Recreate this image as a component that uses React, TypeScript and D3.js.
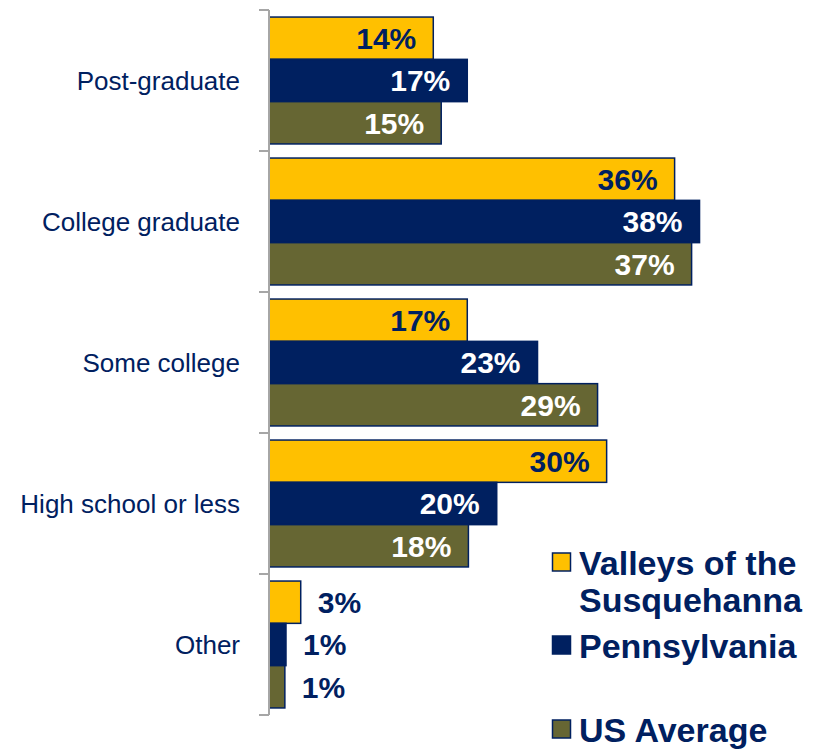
import React from "react";
import * as d3 from "d3";

const categories = ["Post-graduate", "College graduate", "Some college", "High school or less", "Other"];
const seriesNames = ["Valleys of the Susquehanna", "Pennsylvania", "US Average"];
const valleysValues = [14.5, 35.8, 17.5, 29.8, 2.8];
const pennsylvaniaValues = [17.5, 38.0, 23.7, 20.1, 1.5];
const usValues = [15.2, 37.3, 29.0, 17.6, 1.4];
const valleysLabels = ["14%", "36%", "17%", "30%", "3%"];
const pennsylvaniaLabels = ["17%", "38%", "23%", "20%", "1%"];
const usLabels = ["15%", "37%", "29%", "18%", "1%"];
const outsideCategories = ["Other"];

const W = 821;
const H = 751;
const YELLOW = "#FFC000";
const NAVY = "#002060";
const OLIVE = "#666633";
const FONT = "'Liberation Sans', Arial, sans-serif";

export default function App() {
  const x = d3.scaleLinear().domain([0, 40]).range([269, 269 + 40 * 11.33]);
  const y = d3.scaleBand<string>().domain(categories).range([10, 715]).paddingInner(0.1).paddingOuter(0.05);
  const inner = d3.scaleBand<number>().domain([0, 1, 2]).range([0, y.bandwidth()]).padding(0);
  const ticks = [...categories.map((c) => y(c)! - (y.step() - y.bandwidth()) / 2), 715];

  const series = [
    { name: seriesNames[0], values: valleysValues, labels: valleysLabels, fill: YELLOW, text: NAVY },
    { name: seriesNames[1], values: pennsylvaniaValues, labels: pennsylvaniaLabels, fill: NAVY, text: "#FFFFFF" },
    { name: seriesNames[2], values: usValues, labels: usLabels, fill: OLIVE, text: "#FFFFFF" },
  ];

  const legend = [
    { lines: ["Valleys of the", "Susquehanna"], fill: YELLOW, baseline: 575 },
    { lines: ["Pennsylvania"], fill: NAVY, baseline: 658 },
    { lines: ["US Average"], fill: OLIVE, baseline: 742 },
  ];

  return (
    <svg width={W} height={H} style={{ position: "absolute", left: 0, top: 0, background: "#fff" }} fontFamily={FONT}>
      {series.map((s, si) =>
        categories.map((c, ci) => {
          const by = y(c)! + inner(si)!;
          const bh = inner.bandwidth();
          const x1 = x(s.values[ci]);
          const outside = outsideCategories.includes(c);
          return (
            <g key={`${si}-${ci}`}>
              <rect x={x(0)} y={by} width={x1 - x(0)} height={bh} fill={s.fill} stroke={NAVY} strokeWidth={1.5} />
              <text
                x={outside ? x1 + 17 : x1 - 17}
                y={by + bh / 2}
                dy="0.36em"
                textAnchor={outside ? "start" : "end"}
                fontSize={30}
                fontWeight="bold"
                fill={outside ? NAVY : s.text}
              >
                {s.labels[ci]}
              </text>
            </g>
          );
        })
      )}
      <line x1={269} x2={269} y1={10} y2={715} stroke="#A6A6A6" strokeWidth={2} />
      {ticks.map((t, i) => (
        <line key={i} x1={259} x2={269} y1={t} y2={t} stroke="#A6A6A6" strokeWidth={2} />
      ))}
      {categories.map((c) => (
        <text key={c} x={240} y={y(c)! + y.bandwidth() / 2} dy="0.36em" textAnchor="end" fontSize={26} fill={NAVY}>
          {c}
        </text>
      ))}
      {legend.map((l, i) => (
        <g key={i}>
          <rect x={552.5} y={l.baseline - 22} width={18} height={18} fill={l.fill} stroke={NAVY} strokeWidth={1.5} />
          {l.lines.map((ln, j) => (
            <text key={j} x={579} y={l.baseline + j * 36.7} fontSize={34} fontWeight="bold" fill={NAVY}>
              {ln}
            </text>
          ))}
        </g>
      ))}
    </svg>
  );
}
